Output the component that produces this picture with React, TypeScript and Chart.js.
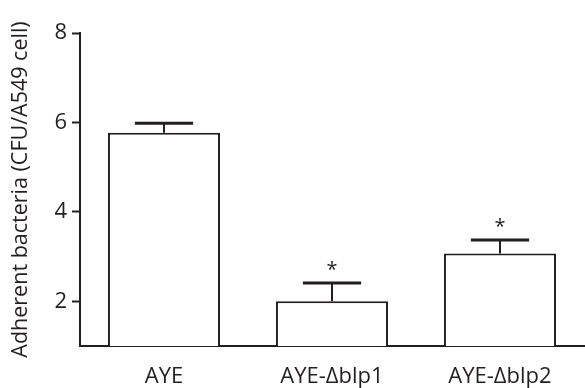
import React, { useEffect, useRef } from "react";
import { Chart, registerables } from "chart.js";

Chart.register(...registerables);

const categories = ["AYE", "AYE-\u0394blp1", "AYE-\u0394blp2"];
const means = [5.77, 2.0, 3.07];
const errTops = [5.98, 2.41, 3.37];
const significant = [false, true, true];
const yTicks = [2, 4, 6, 8];
const yTitle = "Adherent bacteria (CFU/A549 cell)";

const INK = "#231f20";
const FONT = "'Open Sans', 'DejaVu Sans', sans-serif";

const errorBarPlugin = {
  id: "errorBars",
  afterDatasetsDraw(chart: any) {
    const ctx = chart.ctx;
    const meta = chart.getDatasetMeta(0);
    const y = chart.scales.y;
    ctx.save();
    ctx.strokeStyle = INK;
    ctx.fillStyle = INK;
    meta.data.forEach((bar: any, i: number) => {
      const cx = bar.x;
      const top = y.getPixelForValue(means[i]);
      const eTop = y.getPixelForValue(errTops[i]);
      const capHalf = bar.width * 0.26;
      ctx.lineWidth = 2;
      ctx.beginPath();
      ctx.moveTo(cx, top);
      ctx.lineTo(cx, eTop);
      ctx.stroke();
      ctx.lineWidth = 3;
      ctx.beginPath();
      ctx.moveTo(cx - capHalf, eTop);
      ctx.lineTo(cx + capHalf, eTop);
      ctx.stroke();
      if (significant[i]) {
        ctx.font = `20px ${FONT}`;
        ctx.textAlign = "center";
        ctx.textBaseline = "middle";
        ctx.fillText("*", cx, eTop - 13);
      }
    });
    ctx.restore();
  },
};

export default function App() {
  const ref = useRef<HTMLCanvasElement | null>(null);
  useEffect(() => {
    document.body.style.margin = "0";
    const chart = new Chart(ref.current as HTMLCanvasElement, {
      type: "bar",
      data: {
        labels: categories,
        datasets: [
          {
            data: means,
            backgroundColor: "#ffffff",
            borderColor: INK,
            borderWidth: 2,
            categoryPercentage: 1,
            barPercentage: 0.667,
          },
        ],
      },
      options: {
        animation: false,
        responsive: false,
        events: [],
        layout: { padding: { top: 33, right: 1, left: 0, bottom: 0 } },
        plugins: { legend: { display: false }, tooltip: { enabled: false } },
        scales: {
          x: {
            offset: true,
            grid: { display: false, drawTicks: false },
            border: { display: true, color: INK, width: 2 },
            ticks: { color: INK, font: { family: FONT, size: 22 }, padding: 18 },
            afterFit: (s: any) => {
              s.height = 42;
            },
          },
          y: {
            min: 1,
            max: 8,
            afterBuildTicks: (s: any) => {
              s.ticks = yTicks.map((v) => ({ value: v }));
            },
            grid: { drawOnChartArea: false, tickLength: 8, color: INK, tickWidth: 2 },
            border: { display: true, color: INK, width: 2 },
            ticks: { color: INK, font: { family: FONT, size: 22 }, padding: 5 },
            title: {
              display: true,
              text: yTitle,
              color: INK,
              font: { family: FONT, size: 21.5 },
              padding: { top: 8, bottom: 0 },
            },
            afterFit: (s: any) => {
              s.width = 80;
            },
          },
        },
      },
      plugins: [errorBarPlugin],
    });
    return () => chart.destroy();
  }, []);
  return (
    <div style={{ width: 585, height: 388, position: "relative", background: "#fff" }}>
      <canvas ref={ref} width={585} height={388} />
    </div>
  );
}
